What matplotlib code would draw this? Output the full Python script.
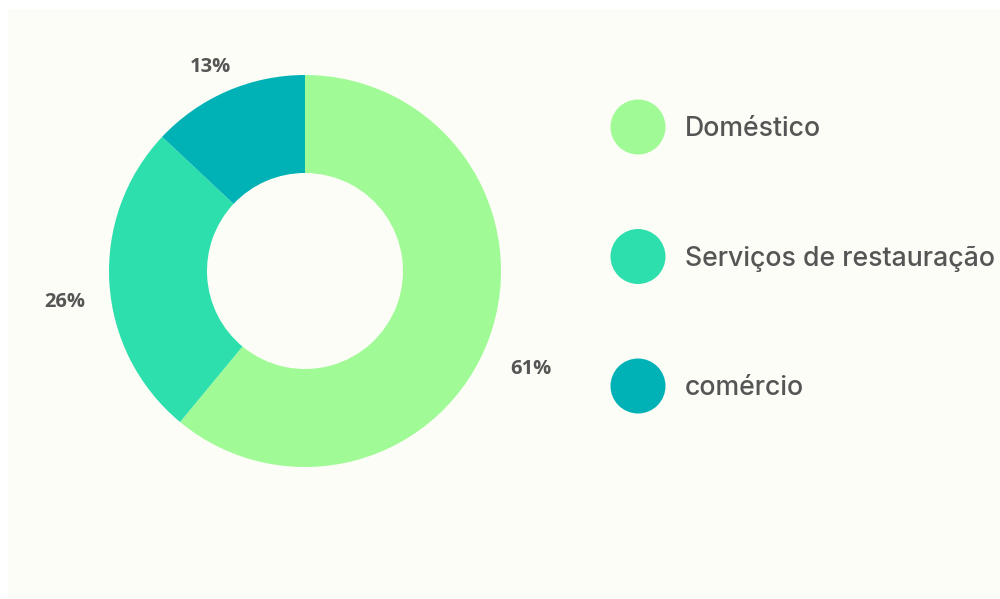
import numpy as np
import matplotlib
matplotlib.use("Agg")
import matplotlib.pyplot as plt
from matplotlib.patches import Rectangle, Circle

# Data
categories = ["Doméstico", "Serviços de restauração", "comércio"]
shares = [61, 26, 13]
colors = ["#A0FB96", "#2EDFAE", "#00B2B6"]

W, H = 1000, 599
fig = plt.figure(figsize=(W / 100, H / 100), dpi=100)
fig.patch.set_facecolor("white")
ax = fig.add_axes([0, 0, 1, 1])

# Panel background
ax.add_patch(Rectangle((8, 1), W - 8, H - 10, facecolor="#FCFDF6",
                       edgecolor="none", zorder=0))

text_color = "#555555"

# Donut
cx, cy, r = 305, H - 271, 196
wedges, _ = ax.pie(shares, colors=colors, startangle=90, counterclock=False,
                   radius=r, center=(cx, cy),
                   wedgeprops=dict(width=r * 0.5, edgecolor="none"),
                   frame=True)
ax.set_xlim(0, W)
ax.set_ylim(0, H)
ax.set_aspect("equal")
ax.axis("off")

# Percentage labels outside each wedge (radial distance, angular nudge)
label_dist = [1.257, 1.235, 1.148]
label_nudge = [-3.6, 3.8, 1.6]
for w, val, d, nd in zip(wedges, shares, label_dist, label_nudge):
    ang = np.deg2rad((w.theta1 + w.theta2) / 2 + nd)
    x = cx + d * r * np.cos(ang)
    y = cy + d * r * np.sin(ang)
    ax.text(x, y, f"{val}%", ha="center", va="center", fontsize=14.5,
            fontweight="bold", family="Open Sans", color=text_color)

# Legend
leg_x, leg_y0, leg_step = 638, H - 127, 129.5
for i, (name, col) in enumerate(zip(categories, colors)):
    y = leg_y0 - i * leg_step
    ax.add_patch(Circle((leg_x, y), 27.5, facecolor=col, edgecolor="none"))
    ax.text(685, y - 2, name, ha="left", va="center", fontsize=19.2,
            family="Inter", fontweight="medium", color=text_color)

fig.savefig("out.png", dpi=100, facecolor=fig.get_facecolor())
